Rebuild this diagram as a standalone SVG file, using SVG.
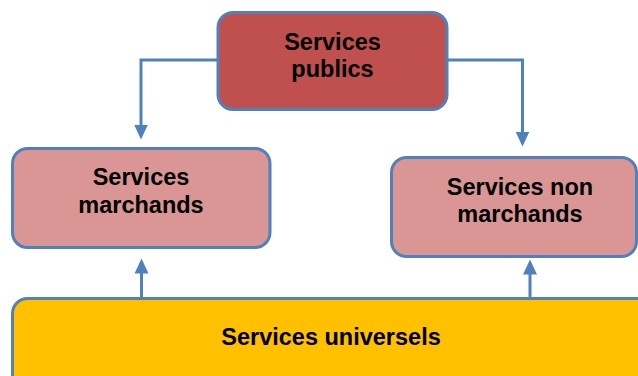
<svg xmlns="http://www.w3.org/2000/svg" width="638" height="376" viewBox="0 0 638 376">
<style>
.box{stroke:#4F81BD;stroke-width:3}
.t{font-family:"Liberation Sans",Arial,sans-serif;font-weight:bold;font-size:23.5px;fill:#000;text-anchor:middle}
.c{fill:none;stroke:#4F81BD;stroke-width:3}
</style>
<defs>
<marker id="ah" markerUnits="userSpaceOnUse" markerWidth="16" markerHeight="16" viewBox="0 0 16 16" refX="0.5" refY="8" orient="auto">
<path d="M0,1 L15,8 L0,15 Z" fill="#4F81BD"/>
</marker>
</defs>
<rect width="638" height="376" fill="#fff"/>
<g id="connectors">
<polyline class="c" points="218,60 141,60 141,125" marker-end="url(#ah)"/>
<polyline class="c" points="447,60 522.5,60 522.5,132" marker-end="url(#ah)"/>
<line class="c" x1="141.5" y1="298" x2="141.5" y2="273" marker-end="url(#ah)"/>
<line class="c" x1="530" y1="298" x2="530" y2="274" marker-end="url(#ah)"/>
</g>
<g id="services-publics">
<rect class="box" x="218" y="12.5" width="229" height="97" rx="15" fill="#C0504D"/>
<text class="t" x="332.5" y="50">Services</text>
<text class="t" x="332.5" y="77">publics</text>
</g>
<g id="services-marchands">
<rect class="box" x="12.5" y="148.5" width="257.5" height="99" rx="15" fill="#D99694"/>
<text class="t" x="141" y="185">Services</text>
<text class="t" x="141" y="213">marchands</text>
</g>
<g id="services-non-marchands">
<rect class="box" x="391.5" y="157.5" width="245" height="99" rx="15" fill="#D99694"/>
<text class="t" x="520" y="195">Services non</text>
<text class="t" x="520" y="222">marchands</text>
</g>
<g id="services-universels">
<rect class="box" x="12.5" y="298.5" width="660" height="110" rx="15" fill="#FFC000"/>
<text class="t" x="331" y="345">Services universels</text>
</g>
</svg>
